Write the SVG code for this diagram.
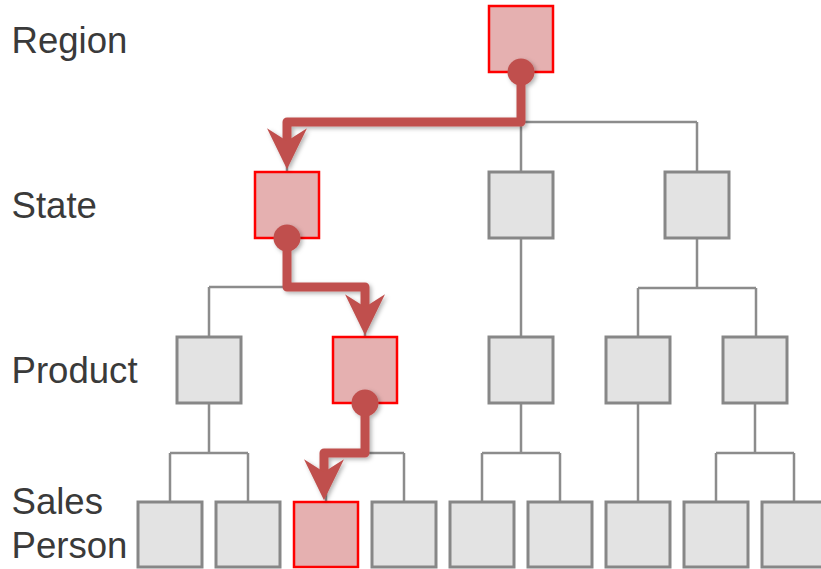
<svg xmlns="http://www.w3.org/2000/svg" width="821" height="569" viewBox="0 0 821 569">
<style>
.lbl{font-family:"Liberation Sans",Arial,sans-serif;font-size:36.6px;fill:#3a3a3a}
.g{fill:#e3e3e3;stroke:#878787;stroke-width:3}
.r{fill:#e5b0b0;stroke:#ff0000;stroke-width:2.5}
.c{fill:none;stroke:#8c8c8c;stroke-width:2.5}
.p{fill:none;stroke:#c0504d;stroke-width:9;stroke-linejoin:round}
.dot{fill:#c0504d}
</style>
<defs>
<filter id="sh" x="-20%" y="-20%" width="140%" height="140%">
<feDropShadow dx="2" dy="2" stdDeviation="2" flood-color="#000" flood-opacity="0.3"/>
</filter>
<marker id="ah" markerUnits="userSpaceOnUse" markerWidth="50" markerHeight="50" viewBox="-5 -25 55 50" refX="25" refY="0" orient="auto">
<path d="M0,-22 L45,0 L0,22 L14,0 Z" fill="#c0504d"/>
</marker>
</defs>
<g id="labels">
<text class="lbl" x="11.5" y="53">Region</text>
<text class="lbl" x="11.5" y="218">State</text>
<text class="lbl" x="11.5" y="383">Product</text>
<text class="lbl" x="11.5" y="514">Sales</text>
<text class="lbl" x="11.5" y="558">Person</text>
</g>
<g id="connectors">
<path class="c" d="M521,72V122M287,122H697M287,122V172M521,122V172M697,122V172"/>
<path class="c" d="M287,238V287M209,287H365M209,287V337M365,287V337"/>
<path class="c" d="M521,238V337"/>
<path class="c" d="M697,238V288M638,288H756M638,288V337M756,288V337"/>
<path class="c" d="M209,403V453M170,453H248M170,453V502M248,453V502"/>
<path class="c" d="M365,403V453M326,453H404M326,453V502M404,453V502"/>
<path class="c" d="M521,403V453M482,453H560M482,453V502M560,453V502"/>
<path class="c" d="M638,403V502"/>
<path class="c" d="M755,403V453M716,453H794M716,453V502M794,453V502"/>
</g>
<g id="n-region"><rect class="r" x="489" y="6" width="64" height="66"/></g>
<g id="n-state1"><rect class="r" x="255" y="172" width="64" height="66"/></g>
<g id="n-state2"><rect class="g" x="489" y="172" width="64" height="66"/></g>
<g id="n-state3"><rect class="g" x="665" y="172" width="64" height="66"/></g>
<g id="n-product1"><rect class="g" x="177" y="337" width="64" height="66"/></g>
<g id="n-product2"><rect class="r" x="333" y="337" width="64" height="66"/></g>
<g id="n-product3"><rect class="g" x="489" y="337" width="64" height="66"/></g>
<g id="n-product4"><rect class="g" x="606" y="337" width="64" height="66"/></g>
<g id="n-product5"><rect class="g" x="723" y="337" width="64" height="66"/></g>
<g id="n-sales1"><rect class="g" x="138" y="502" width="64" height="65"/></g>
<g id="n-sales2"><rect class="g" x="216" y="502" width="64" height="65"/></g>
<g id="n-sales3"><rect class="r" x="294" y="502" width="64" height="65"/></g>
<g id="n-sales4"><rect class="g" x="372" y="502" width="64" height="65"/></g>
<g id="n-sales5"><rect class="g" x="450" y="502" width="64" height="65"/></g>
<g id="n-sales6"><rect class="g" x="528" y="502" width="64" height="65"/></g>
<g id="n-sales7"><rect class="g" x="606" y="502" width="64" height="65"/></g>
<g id="n-sales8"><rect class="g" x="684" y="502" width="64" height="65"/></g>
<g id="n-sales9"><rect class="g" x="762" y="502" width="64" height="65"/></g>
<g id="drill-path" filter="url(#sh)">
<path class="p" d="M521,72V122H287V151" marker-end="url(#ah)"/>
<path class="p" d="M287,238V287H365V317" marker-end="url(#ah)"/>
<path class="p" d="M365,403V453H324V482" marker-end="url(#ah)"/>
<circle class="dot" cx="521" cy="72" r="13.5"/>
<circle class="dot" cx="287" cy="238" r="13.5"/>
<circle class="dot" cx="365" cy="403" r="13.5"/>
</g>
</svg>
